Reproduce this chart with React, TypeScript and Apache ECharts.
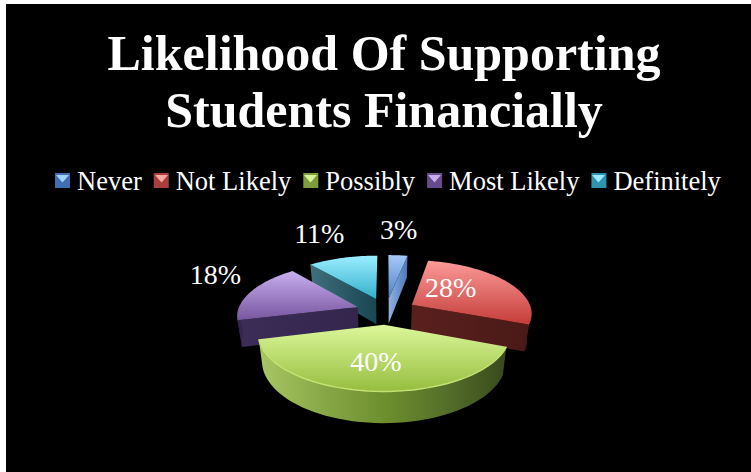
import React, { useEffect, useRef } from "react";
import * as echarts from "echarts";

// Survey shares, in percent, clockwise from twelve o'clock.
const categories = ["Never", "Not Likely", "Possibly", "Most Likely", "Definitely"];
const shares = [3, 28, 40, 18, 11];
const titleLines = ["Likelihood Of Supporting", "Students Financially"];

// Colour ramps per slice: top face light/dark, cut-face start/end, legend key body and highlight.
const topLight = ["#a6c8fa", "#fb9a98", "#dcf79a", "#c8aef0", "#9aeeff"];
const topDark = ["#4f81c6", "#c43d3a", "#96bd3e", "#77569f", "#33aecb"];
const wallStart = ["#8fb0e0", "#5a201d", "#5f7a2a", "#3c2c58", "#3f6f7c"];
const wallEnd = ["#4b78b8", "#4a1a18", "#5f7a2a", "#33264c", "#184652"];
const rimRamp = ["#a9c763", "#89a848", "#6f902e", "#55702a", "#38491d"];
const keyBody = ["#3f6fb0", "#a83f3c", "#7f9c3c", "#654a8c", "#2f93ae"];
const keyLight = ["#a3d0fa", "#f4a9a6", "#d6f29a", "#c4adea", "#9ce9fb"];
const paintOrder = [1, 3, 4, 2, 0];

// Perspective plate of the pie.
const CX = 386, CY = 311, RADIUS = 120, EXPLODE = 30, DEPTH = 26;
const TILT = 0.44, PERSP = 0.0012;
const FONT = '"Liberation Serif", serif';

// Radial position of each value label on the plate, and a small screen nudge.
const labelRadius = [196, 62, 70, 155, 204];
const labelNudge = [[-4, -4], [-12, -5], [-3, 1], [-6, -13], [-4, -1]];

// Legend key layout: left edges of the keys along the legend row.
const keyLeft = [55, 154, 303, 427, 591];
const KEY_TOP = 174, KEY_SIZE = 15;

const plate = (x: number, y: number) => {
  const s = 1 / (1 - PERSP * y);
  return [CX + x * s, CY + y * TILT * s, s];
};
const onPlate = (mid: number, deg: number, r: number) => {
  const a = (deg * Math.PI) / 180, m = (mid * Math.PI) / 180;
  return plate(EXPLODE * Math.sin(m) + r * Math.sin(a), -EXPLODE * Math.cos(m) - r * Math.cos(a));
};
const lower = (p: number[]) => [CX + (p[0] - CX) * 0.97, p[1] + DEPTH * p[2]];
const grad = (x2: number, y2: number, stops: string[]) => ({
  type: "linear", x: 0, y: 0, x2, y2,
  colorStops: stops.map((color, i) => ({ offset: i / (stops.length - 1), color })),
});

const renderSlice = (index: number) => (_: any, api: any) => {
  const value = api.value(0);
  const total = shares.reduce((a, b) => a + b, 0);
  const before = shares.slice(0, index).reduce((a, b) => a + b, 0);
  const start = (before / total) * 360;
  const end = start + (value / total) * 360;
  const mid = (start + end) / 2;
  const arc: number[][] = [];
  for (let i = 0; i <= 48; i++) arc.push(onPlate(mid, start + ((end - start) * i) / 48, RADIUS));
  const apex = onPlate(mid, mid, 0);
  const poly = (points: number[][], fill: any) => ({
    type: "polygon",
    shape: { points: points.map((p) => [p[0], p[1]]) },
    style: { fill },
  });
  const children: any[] = [];
  // cut face first, then the rim, then the top
  if (index !== 2) {
    const edge = index === 0 || index === 1 ? arc[arc.length - 1] : arc[0];
    children.push(poly([apex, edge, lower(edge), lower(apex)], grad(1, 0, [wallStart[index], wallEnd[index]])));
  }
  const front = arc.filter((p, i) => {
    const deg = start + ((end - start) * i) / 48;
    return deg > 90 && deg < 270;
  });
  if (front.length > 1) {
    children.push(
      poly(
        [...front, ...front.slice().reverse().map(lower)],
        index === 2 ? grad(1, 0, rimRamp) : wallEnd[index]
      )
    );
  }
  children.push(poly([apex, ...arc], grad(0, 1, [topLight[index], topDark[index]])));
  if (index === 2) {
    // bevelled highlight along the front edge of the top face
    children.push({
      type: "polyline",
      shape: { points: front.map((p) => [p[0], p[1]]) },
      style: { stroke: "#c4e274", lineWidth: 1.5, fill: "none" },
    });
  }
  const lab = onPlate(mid, mid, labelRadius[index]);
  children.push({
    type: "text",
    style: {
      text: `${value}%`,
      x: lab[0] + labelNudge[index][0],
      y: lab[1] + labelNudge[index][1],
      fill: "#ffffff",
      font: `28px ${FONT}`,
      align: "center",
      verticalAlign: "middle",
    },
  });
  return { type: "group", children };
};

export default function App() {
  const ref = useRef<HTMLDivElement>(null);
  useEffect(() => {
    document.body.style.margin = "0";
    document.body.style.background = "#ffffff";
    const chart = echarts.init(ref.current!, null, { renderer: "svg" });
    chart.setOption({
      animation: false,
      backgroundColor: "#ffffff",
      graphic: [
        { type: "rect", z: -10, shape: { x: 6, y: 4, width: 745, height: 468 }, style: { fill: "#000000" } },
        // highlight wedge on each legend key
        ...keyLeft.map((x, i) => ({
          type: "polygon",
          z: 50,
          shape: {
            points: [
              [x + 1, KEY_TOP + 1],
              [x + KEY_SIZE - 1, KEY_TOP + 1],
              [x + KEY_SIZE / 2, KEY_TOP + KEY_SIZE / 2 + 1],
            ],
          },
          style: { fill: keyLight[i] },
        })),
      ],
      title: {
        text: titleLines.join("\n"),
        left: 379,
        top: 19,
        textAlign: "center",
        textStyle: { color: "#ffffff", fontFamily: FONT, fontWeight: "bold", fontSize: 50, lineHeight: 57 },
      },
      legend: {
        top: 162,
        left: 50,
        itemWidth: KEY_SIZE,
        itemHeight: KEY_SIZE,
        itemGap: 12,
        icon: "rect",
        selectedMode: false,
        textStyle: { color: "#ffffff", fontFamily: FONT, fontSize: 26.5, padding: [0, 0, 7, 2] },
        data: categories.map((name, i) => ({
          name,
          itemStyle: { color: keyBody[i] },
        })),
      },
      series: categories.map((name, i) => ({
        type: "custom",
        name,
        coordinateSystem: "none",
        z: 2 + paintOrder[i],
        silent: true,
        clip: false,
        data: [[shares[i]]],
        renderItem: renderSlice(i),
      })),
    });
    return () => chart.dispose();
  }, []);
  return <div ref={ref} style={{ width: 751, height: 472 }} />;
}
